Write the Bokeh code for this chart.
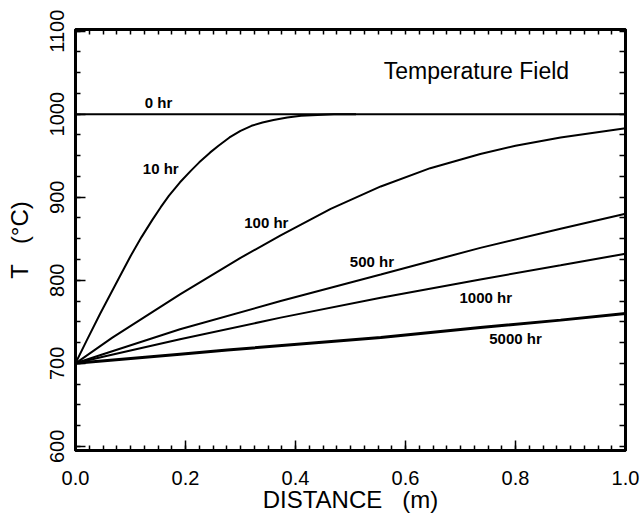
from bokeh.plotting import figure
from bokeh.models import LinearAxis, SingleIntervalTicker, FixedTicker, PrintfTickFormatter, Range1d
from bokeh.embed import file_html
from bokeh.resources import INLINE
from bokeh.core.properties import value

FONT = "Liberation Sans"
NB = "\u00a0"

# ---- data ----
dist_0hr = [0.0, 1.0]
temp_0hr = [1000, 1000]

dist_10hr = [0.0, 0.02, 0.045, 0.08, 0.10, 0.12, 0.14, 0.155, 0.17, 0.19, 0.21, 0.225, 0.245, 0.26, 0.28, 0.30, 0.32, 0.34, 0.36, 0.385, 0.41, 0.44, 0.47, 0.51]
temp_10hr = [700, 727, 760, 804, 829, 852, 873, 888, 902, 918, 932, 942, 954, 962, 972, 980, 986, 990, 993, 996, 998, 999, 1000, 1000]

dist_100hr = [0.0, 0.067, 0.19, 0.30, 0.373, 0.464, 0.555, 0.645, 0.736, 0.80, 0.882, 1.0]
temp_100hr = [700, 731, 783, 827, 854, 886, 913, 935, 952, 962, 972, 983]

dist_500hr = [0.0, 0.05, 0.19, 0.373, 0.555, 0.645, 0.736, 0.882, 1.0]
temp_500hr = [700, 711, 741, 775, 807, 823, 839, 862, 880]

dist_1000hr = [0.0, 0.05, 0.19, 0.373, 0.555, 0.736, 0.882, 1.0]
temp_1000hr = [700, 708, 729, 755, 779, 801, 818, 832]

dist_5000hr = [0.0, 0.19, 0.276, 0.555, 0.736, 0.882, 1.0]
temp_5000hr = [700, 711, 716, 731, 743, 752, 760]

label_text = ["0 hr", "10 hr", "100 hr", "500 hr", "1000 hr", "5000 hr"]
label_x = [0.151, 0.155, 0.347, 0.539, 0.746, 0.80]
label_y = [1014.5, 935, 870, 823, 779.5, 730]

title_text = "Temperature Field"
title_x = 0.729
title_y = 1052

x_tick_interval = 0.2
y_tick_interval = 100

# ---- figure ----
p = figure(frame_width=550, frame_height=421,
           x_range=Range1d(0.0, 1.0), y_range=Range1d(595, 1102),
           output_backend="svg", toolbar_location=None,
           min_border_left=75, min_border_right=17,
           min_border_top=29, min_border_bottom=71,
           x_axis_label="DISTANCE" + NB * 3 + "(m)",
           y_axis_label="T" + NB * 3 + "(°C)",
           background_fill_color="white", border_fill_color="white")

p.xgrid.visible = False
p.ygrid.visible = False
p.outline_line_color = "black"
p.outline_line_width = 3


def style_axis(ax, major_in, minor_in):
    ax.axis_line_color = "black"
    ax.axis_line_width = 3
    ax.major_tick_in = major_in
    ax.major_tick_out = 0
    ax.minor_tick_in = minor_in
    ax.minor_tick_out = 0
    ax.major_tick_line_color = "black"
    ax.minor_tick_line_color = "black"
    ax.major_tick_line_width = 1.5
    ax.minor_tick_line_width = 1.5
    ax.major_label_text_font = FONT
    ax.major_label_text_font_size = "20px"
    ax.major_label_text_color = "black"
    ax.axis_label_text_font = FONT
    ax.axis_label_text_font_size = "24px"
    ax.axis_label_text_font_style = "normal"
    ax.axis_label_text_color = "black"


xa = p.xaxis[0]
xa.ticker = SingleIntervalTicker(interval=x_tick_interval, num_minor_ticks=8)
xa.formatter = PrintfTickFormatter(format="%.1f")
style_axis(xa, 10, 5)
xa.major_label_standoff = 20
xa.axis_label_standoff = -2

ya = p.yaxis[0]
ya.ticker = SingleIntervalTicker(interval=y_tick_interval, num_minor_ticks=4)
ya.major_label_orientation = "vertical"
style_axis(ya, 10, 5)
ya.major_label_standoff = 11
ya.axis_label_standoff = 15

# frame ticks on top and right (tick marks only, no labels)
top_minor = [round(i * x_tick_interval / 8, 4) for i in range(0, 41)]
right_minor = [595 + 5 + i * y_tick_interval / 4 for i in range(0, 21)]

top_ax = LinearAxis(ticker=FixedTicker(ticks=[], minor_ticks=top_minor))
style_axis(top_ax, 5, 5)
p.add_layout(top_ax, "above")

right_ax = LinearAxis(ticker=FixedTicker(ticks=[], minor_ticks=right_minor))
style_axis(right_ax, 6, 6)
p.add_layout(right_ax, "right")

# ---- curves ----
p.line(dist_0hr, temp_0hr, line_color="black", line_width=2)
p.line(dist_10hr, temp_10hr, line_color="black", line_width=2)
p.line(dist_100hr, temp_100hr, line_color="black", line_width=2)
p.line(dist_500hr, temp_500hr, line_color="black", line_width=2)
p.line(dist_1000hr, temp_1000hr, line_color="black", line_width=2)
p.line(dist_5000hr, temp_5000hr, line_color="black", line_width=3)

p.text(x=label_x, y=label_y, text=label_text,
       text_font=value(FONT), text_font_size="15px", text_font_style="bold",
       text_align="center", text_baseline="middle", text_color="black")

p.text(x=[title_x], y=[title_y], text=[title_text],
       text_font=value(FONT), text_font_size="23px",
       text_align="center", text_baseline="middle", text_color="black")

open("out.html", "w").write(file_html(p, INLINE))
